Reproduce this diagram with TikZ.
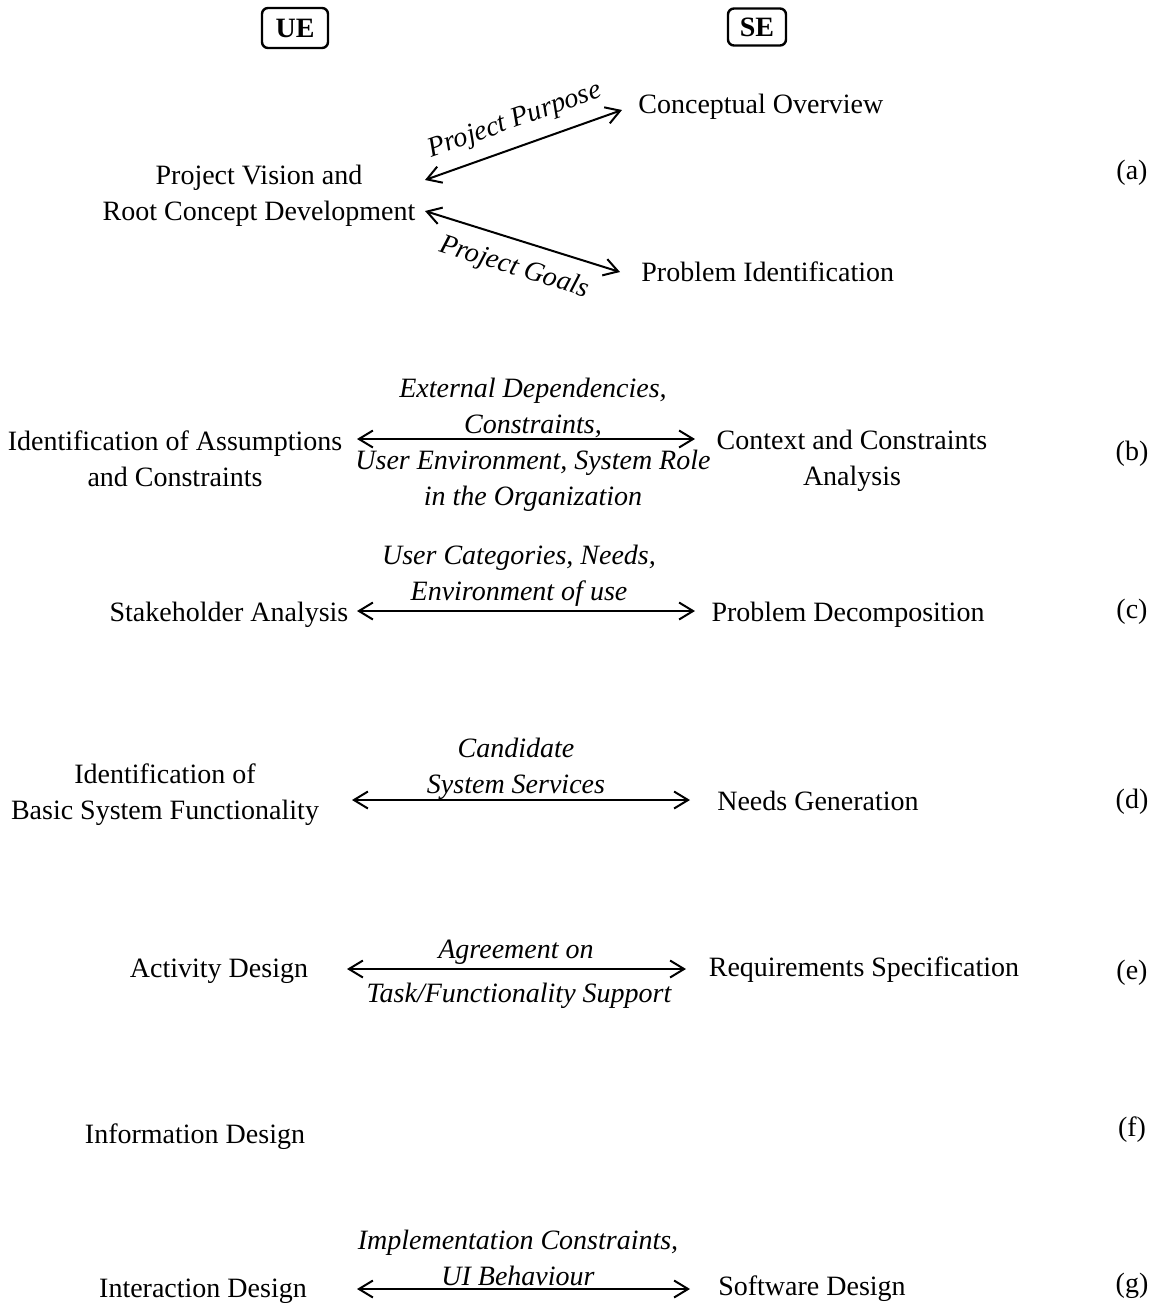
\documentclass[tikz,border=0pt]{standalone}
\usepackage{fontspec}
\setmainfont{Liberation Serif}
\usetikzlibrary{arrows.meta}
\begin{document}
\begin{tikzpicture}[x=0.5pt,y=-0.5pt,
  every node/.style={font=\fontsize{14}{18}\selectfont, inner sep=0pt, align=center},
  phase/.style={yshift=-1.5pt},
  flow/.style={font=\fontsize{14}{18}\selectfont\itshape, yshift=-1.5pt},
  slopedlabel/.style={font=\fontsize{14}{18}\selectfont\itshape, sloped},
  tag/.style={yshift=-1.5pt},
  head/.style={draw, line width=1.2pt, rounded corners=3pt, font=\fontsize{14}{18}\selectfont\bfseries,
               minimum width=33pt, minimum height=20pt},
  biarrow/.style={line width=1pt, {Straight Barb[length=7pt,width=8.5pt]}-{Straight Barb[length=7pt,width=8.5pt]}}]
\useasboundingbox (0,0) rectangle (1154,1303);

% column headings
\node[head] (ue) at (295,28) {UE};
\node[head, minimum width=29pt, minimum height=18.5pt] (se) at (757,27) {SE};

% (a) vision and purpose
\node[phase] (pv) at (259,193) {Project Vision and\\Root Concept Development};
\node[phase, anchor=west] (co) at (638,104) {Conceptual Overview};
\node[phase, anchor=west] (pi) at (641,269) {Problem Identification};
\node[tag] (ta) at (1132,170) {(a)};
\coordinate (a1l) at (425,180);
\coordinate (a1r) at (622,110);
\coordinate (a2l) at (425,211);
\coordinate (a2r) at (620,272);
\draw[biarrow] (a1l) -- node[slopedlabel, above=6pt] (lpp) {Project Purpose} (a1r);
\draw[biarrow] (a2l) -- node[slopedlabel, below=7pt] (lpg) {Project Goals} (a2r);

% (b)
\node[phase] (iac) at (175,456) {Identification of Assumptions\\and Constraints};
\node[phase] (cca) at (852,458) {Context and Constraints\\Analysis};
\node[tag] (tb) at (1132,451) {(b)};
\coordinate (bl) at (357,439);
\coordinate (br) at (695,439);
\draw[biarrow] (bl) -- (br);
\node[flow] (lb) at (533,442) {External Dependencies,\\Constraints,\\User Environment, System Role\\in the Organization};

% (c)
\node[phase] (sa) at (229,612) {Stakeholder Analysis};
\node[phase] (pd) at (848,612) {Problem Decomposition};
\node[tag] (tc) at (1132,609) {(c)};
\coordinate (cl) at (357,611);
\coordinate (cr) at (695,611);
\draw[biarrow] (cl) -- (cr);
\node[flow] (lc) at (519,573) {User Categories, Needs,\\Environment of use};

% (d)
\node[phase] (bsf) at (165,792) {Identification of\\Basic System Functionality};
\node[phase] (ng) at (818,798) {Needs Generation};
\node[tag] (td) at (1132,799) {(d)};
\coordinate (dl) at (352,800);
\coordinate (dr) at (690,800);
\draw[biarrow] (dl) -- (dr);
\node[flow] (ld) at (516,766) {Candidate\\System Services};

% (e)
\node[phase] (ad) at (219,968) {Activity Design};
\node[phase] (rs) at (864,967) {Requirements Specification};
\node[tag] (te) at (1132,970) {(e)};
\coordinate (el) at (347,969);
\coordinate (er) at (686,969);
\draw[biarrow] (el) -- (er);
\node[flow] (le1) at (516,949) {Agreement on};
\node[flow] (le2) at (519,993) {Task/Functionality Support};

% (f)
\node[phase] (idn) at (195,1134) {Information Design};
\node[tag] (tf) at (1132,1127) {(f)};

% (g)
\node[phase] (ixd) at (203,1288) {Interaction Design};
\node[phase] (sd) at (812,1286) {Software Design};
\node[tag] (tg) at (1132,1283) {(g)};
\coordinate (gl) at (357,1289);
\coordinate (gr) at (690,1289);
\draw[biarrow] (gl) -- (gr);
\node[flow] (lg) at (518,1255) {Implementation Constraints,\\UI Behaviour};
\end{tikzpicture}
\end{document}
